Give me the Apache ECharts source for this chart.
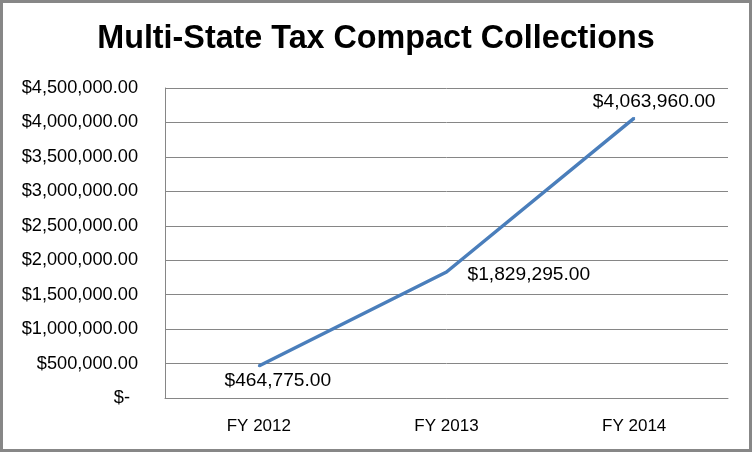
<!DOCTYPE html>
<html>
<head>
<meta charset="utf-8">
<script src="https://cdn.jsdelivr.net/npm/echarts@6/dist/echarts.min.js"></script>
<style>
html,body{margin:0;padding:0;background:#fff;}
#chart{width:752px;height:452px;}
</style>
</head>
<body>
<div id="chart"></div>
<script>
const titleText = 'Multi-State Tax Compact Collections';
const categories = ['FY 2012', 'FY 2013', 'FY 2014'];
const collections = [464775, 1829295, 4063960];
const yMin = 0, yMax = 4500000, yStep = 500000;

function money(v) {
  if (v === 0) return '$-';
  return '$' + v.toLocaleString('en-US', {minimumFractionDigits: 2, maximumFractionDigits: 2});
}

const labelPlacements = [
  {show: true, position: 'bottom', distance: 4, offset: [19, 0]},
  {show: true, position: 'right', distance: 20, offset: [0, 3]},
  {show: true, position: 'top', distance: 4, offset: [20, -2]}
];

const font = '"Liberation Sans", Arial, sans-serif';
const chart = echarts.init(document.getElementById('chart'), null, {renderer: 'canvas'});
chart.setOption({
  animation: false,
  backgroundColor: '#fff',
  title: {
    text: titleText,
    left: 'center',
    top: 18,
    textStyle: {fontFamily: font, fontSize: 32.3, fontWeight: 'bold', color: '#000'}
  },
  graphic: [{
    type: 'rect',
    shape: {x: 1.5, y: 1.5, width: 749, height: 449},
    style: {fill: 'none', stroke: '#878787', lineWidth: 3},
    silent: true
  }],
  grid: {left: 165, right: 24, top: 88, bottom: 54},
  xAxis: {
    type: 'category',
    data: categories,
    boundaryGap: true,
    axisLine: {lineStyle: {color: '#868686', width: 1}},
    axisTick: {show: false},
    axisLabel: {fontFamily: font, fontSize: 17, color: '#000', margin: 20}
  },
  yAxis: {
    type: 'value',
    min: yMin, max: yMax, interval: yStep,
    axisLine: {show: true, lineStyle: {color: '#868686', width: 1}},
    axisTick: {show: false},
    splitLine: {lineStyle: {color: '#868686', width: 1}},
    axisLabel: {
      fontFamily: font, fontSize: 18.2, color: '#000', margin: 27,
      formatter: function (v) { return v === 0 ? '{z|$-}' : money(v); },
      rich: {z: {fontFamily: font, fontSize: 18.2, color: '#000', padding: [0, 8, 0, 0]}}
    }
  },
  series: [{
    type: 'line',
    data: collections.map(function (v, i) {
      return {value: v, label: labelPlacements[i]};
    }),
    symbol: 'circle',
    symbolSize: 2,
    showSymbol: true,
    itemStyle: {color: '#4A7EBB'},
    lineStyle: {color: '#4A7EBB', width: 3.5},
    label: {
      show: true,
      fontFamily: font, fontSize: 19.2, color: '#000',
      formatter: function (p) { return money(p.value); }
    }
  }]
});
</script>
</body>
</html>
